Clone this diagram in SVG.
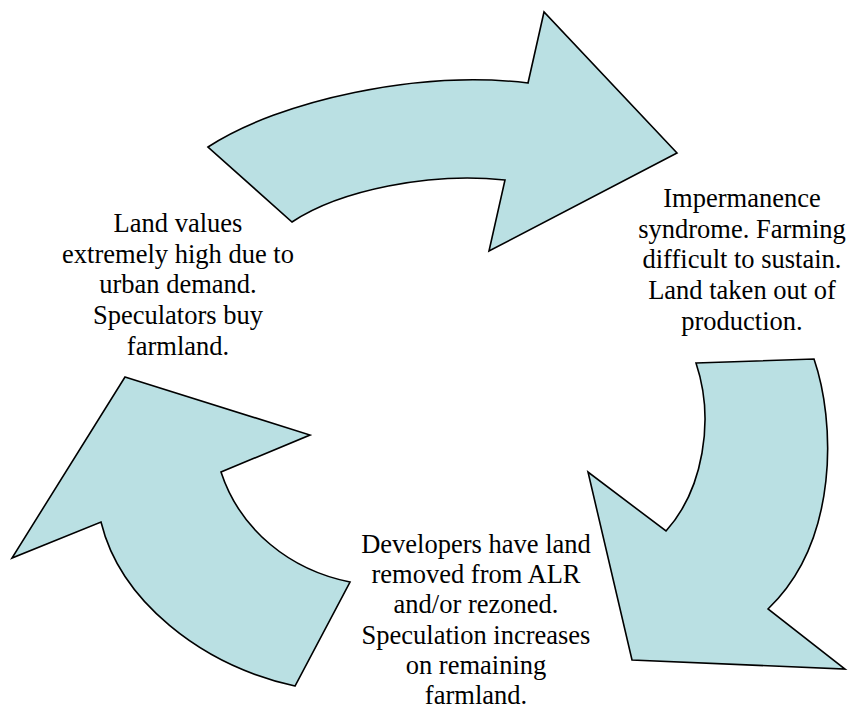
<svg xmlns="http://www.w3.org/2000/svg" width="849" height="709" viewBox="0 0 849 709">
<style>
.arrow{fill:#BAE0E3;stroke:#000;stroke-width:1.6;stroke-linejoin:miter}
.lbl{font-family:"Liberation Serif","Times New Roman",serif;font-size:26.5px;fill:#000;text-anchor:middle}
</style>
<rect width="849" height="709" fill="#fff"/>
<g id="connectors">
<path id="arrow-top" class="arrow" d="M208,147 C280,100 420,70 528,83 L544,12 L677,153 L489,251 L505,180 C430,172 340,190 292,222 Z"/>
<path id="arrow-right" class="arrow" d="M696,363 L814,359 C835,420 840,540 768,609 L845,669 L632,660 L588,472 L666,531 C703,490 715,420 696,363 Z"/>
<path id="arrow-left" class="arrow" d="M125,377 L310,435 L221,472 C240,530 290,570 350,582 L295,686 C200,665 120,600 101,522 L12,558 Z"/>
</g>
<g id="node-land-values">
<text class="lbl" x="178" y="232">Land values</text>
<text class="lbl" x="178" y="262.7">extremely high due to</text>
<text class="lbl" x="178" y="293.4">urban demand.</text>
<text class="lbl" x="178" y="324.1">Speculators buy</text>
<text class="lbl" x="178" y="354.8">farmland.</text>
</g>
<g id="node-impermanence">
<text class="lbl" x="742" y="207">Impermanence</text>
<text class="lbl" x="742" y="237.7">syndrome. Farming</text>
<text class="lbl" x="742" y="268.4">difficult to sustain.</text>
<text class="lbl" x="742" y="299.1">Land taken out of</text>
<text class="lbl" x="742" y="329.8">production.</text>
</g>
<g id="node-developers">
<text class="lbl" x="476" y="553">Developers have land</text>
<text class="lbl" x="476" y="583.2">removed from ALR</text>
<text class="lbl" x="476" y="613.4">and/or rezoned.</text>
<text class="lbl" x="476" y="643.6">Speculation increases</text>
<text class="lbl" x="476" y="673.8">on remaining</text>
<text class="lbl" x="476" y="704">farmland.</text>
</g>
</svg>
